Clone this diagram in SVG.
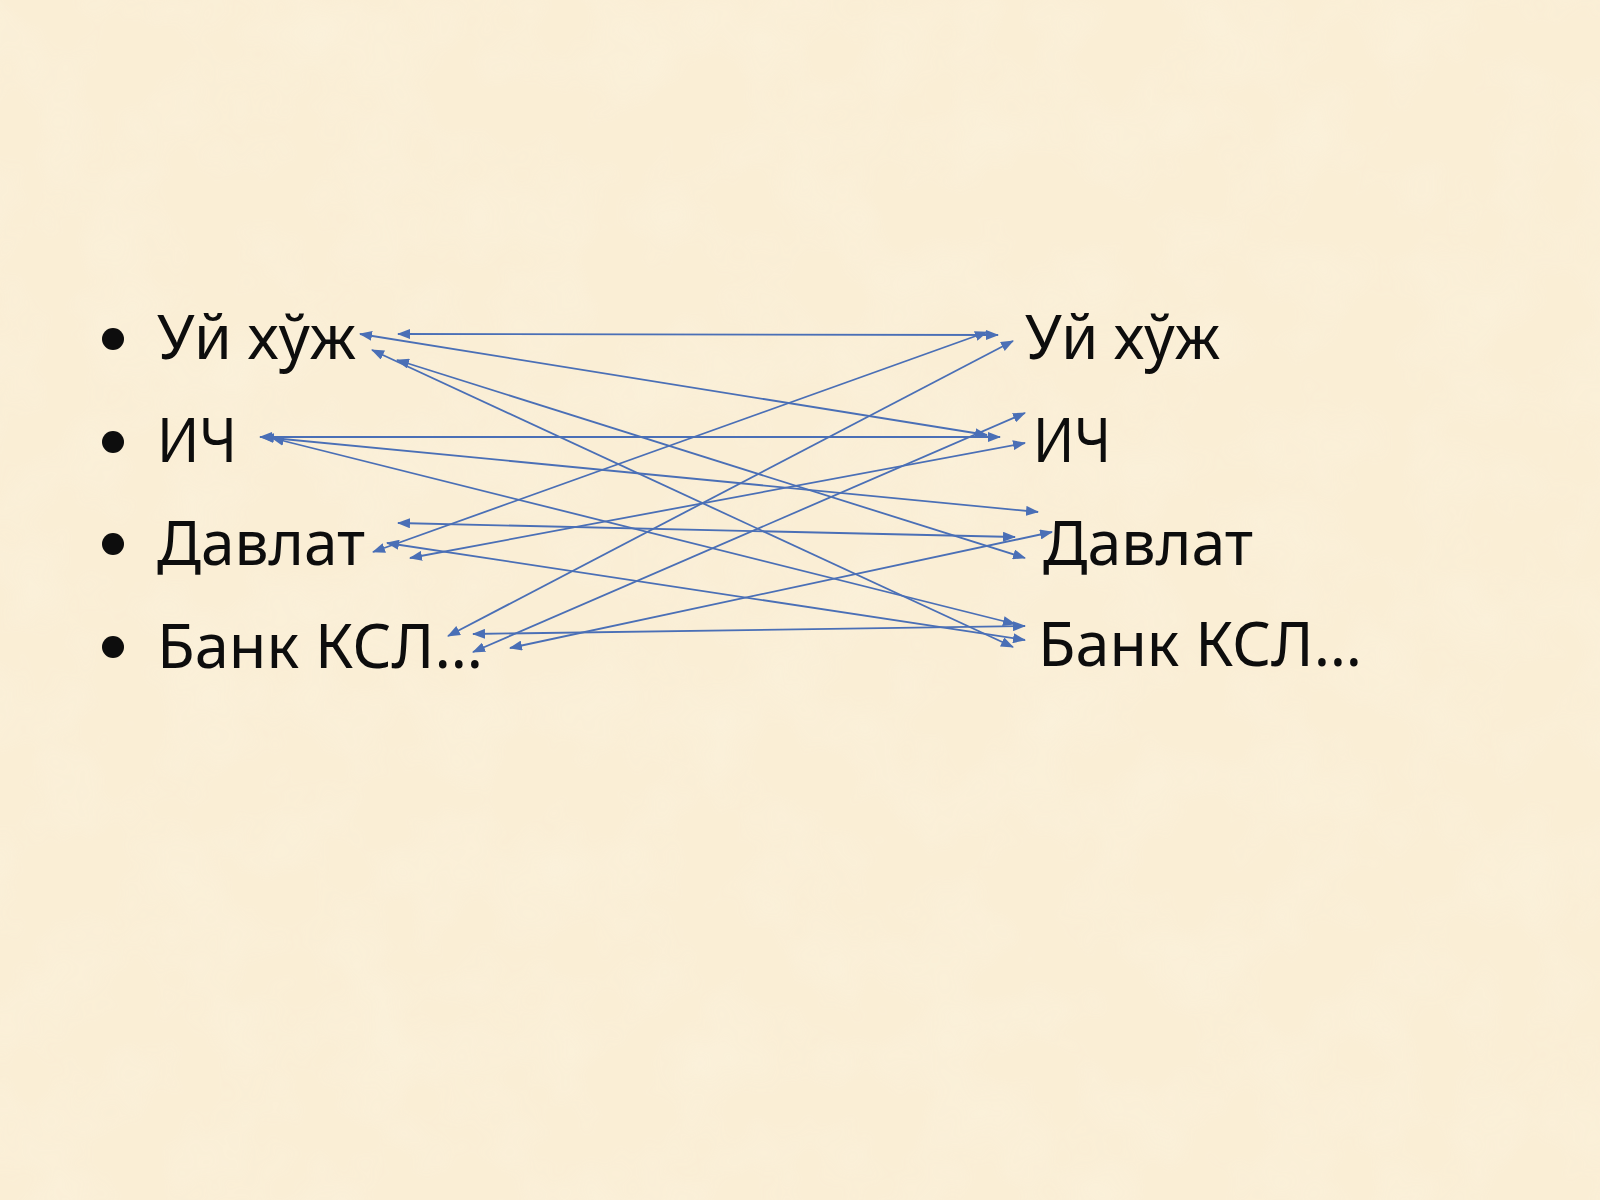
<svg xmlns="http://www.w3.org/2000/svg" width="1600" height="1200" viewBox="0 0 1600 1200">
  <defs>
    <filter id="paper" x="0" y="0" width="100%" height="100%">
      <feTurbulence type="fractalNoise" baseFrequency="0.012" numOctaves="3" seed="7" result="n"/>
      <feColorMatrix in="n" type="matrix" values="0 0 0 0 0.98  0 0 0 0 0.93  0 0 0 0 0.80  0 0 0 -1.1 0.65"/>
    </filter>
    <marker id="ah" viewBox="0 0 13 10" refX="12" refY="5" markerWidth="13" markerHeight="10" markerUnits="userSpaceOnUse" orient="auto-start-reverse">
      <path d="M0,0 L13,5 L0,10 z" fill="#4a6fb6"/>
    </marker>
    <style>
      .lbl { font-family: "Noto Sans", "Open Sans", "DejaVu Sans", sans-serif; font-size: 62px; fill: #0d0d0d; }
      .bul { fill: #0d0d0d; }
      .c line { stroke: #4a6fb6; stroke-width: 1.8; fill: none; marker-start: url(#ah); marker-end: url(#ah); }
    </style>
  </defs>

  <rect x="0" y="0" width="1600" height="1200" fill="#faeed5"/>
  <rect x="0" y="0" width="1600" height="1200" filter="url(#paper)" opacity="0.55"/>

  <g id="left-uy">
    <circle class="bul" cx="113" cy="339" r="11"/>
    <text class="lbl" x="157" y="359" textLength="199" lengthAdjust="spacingAndGlyphs">Уй хўж</text>
  </g>
  <g id="left-ich">
    <circle class="bul" cx="113" cy="442" r="11"/>
    <text class="lbl" x="157" y="462" textLength="80" lengthAdjust="spacingAndGlyphs">ИЧ</text>
  </g>
  <g id="left-davlat">
    <circle class="bul" cx="113" cy="544" r="11"/>
    <text class="lbl" x="157" y="565" textLength="208" lengthAdjust="spacingAndGlyphs">Давлат</text>
  </g>
  <g id="left-bank">
    <circle class="bul" cx="113" cy="647" r="11"/>
    <text class="lbl" x="157" y="668" textLength="326" lengthAdjust="spacingAndGlyphs">Банк КСЛ…</text>
  </g>

  <g id="right-uy">
    <text class="lbl" x="1025" y="359" textLength="195" lengthAdjust="spacingAndGlyphs">Уй хўж</text>
  </g>
  <g id="right-ich">
    <text class="lbl" x="1033" y="462" textLength="78" lengthAdjust="spacingAndGlyphs">ИЧ</text>
  </g>
  <g id="right-davlat">
    <text class="lbl" x="1043" y="565" textLength="210" lengthAdjust="spacingAndGlyphs">Давлат</text>
  </g>
  <g id="right-bank">
    <text class="lbl" x="1038" y="666" textLength="324" lengthAdjust="spacingAndGlyphs">Банк КСЛ…</text>
  </g>

  <g id="connectors" class="c">
    <line x1="398" y1="334" x2="998" y2="335"/>
    <line x1="360" y1="334" x2="987" y2="435"/>
    <line x1="372" y1="350" x2="1013" y2="647"/>
    <line x1="397" y1="360" x2="1025" y2="558"/>
    <line x1="260" y1="437" x2="1000" y2="437"/>
    <line x1="262" y1="437" x2="1038" y2="512"/>
    <line x1="272" y1="438" x2="1015" y2="624"/>
    <line x1="398" y1="523" x2="1015" y2="537"/>
    <line x1="373" y1="552" x2="987" y2="332"/>
    <line x1="387" y1="543" x2="1025" y2="640"/>
    <line x1="410" y1="558" x2="1025" y2="443"/>
    <line x1="448" y1="636" x2="1013" y2="341"/>
    <line x1="473" y1="652" x2="1025" y2="413"/>
    <line x1="473" y1="634" x2="1025" y2="626"/>
    <line x1="510" y1="648" x2="1052" y2="532"/>
  </g>
</svg>
